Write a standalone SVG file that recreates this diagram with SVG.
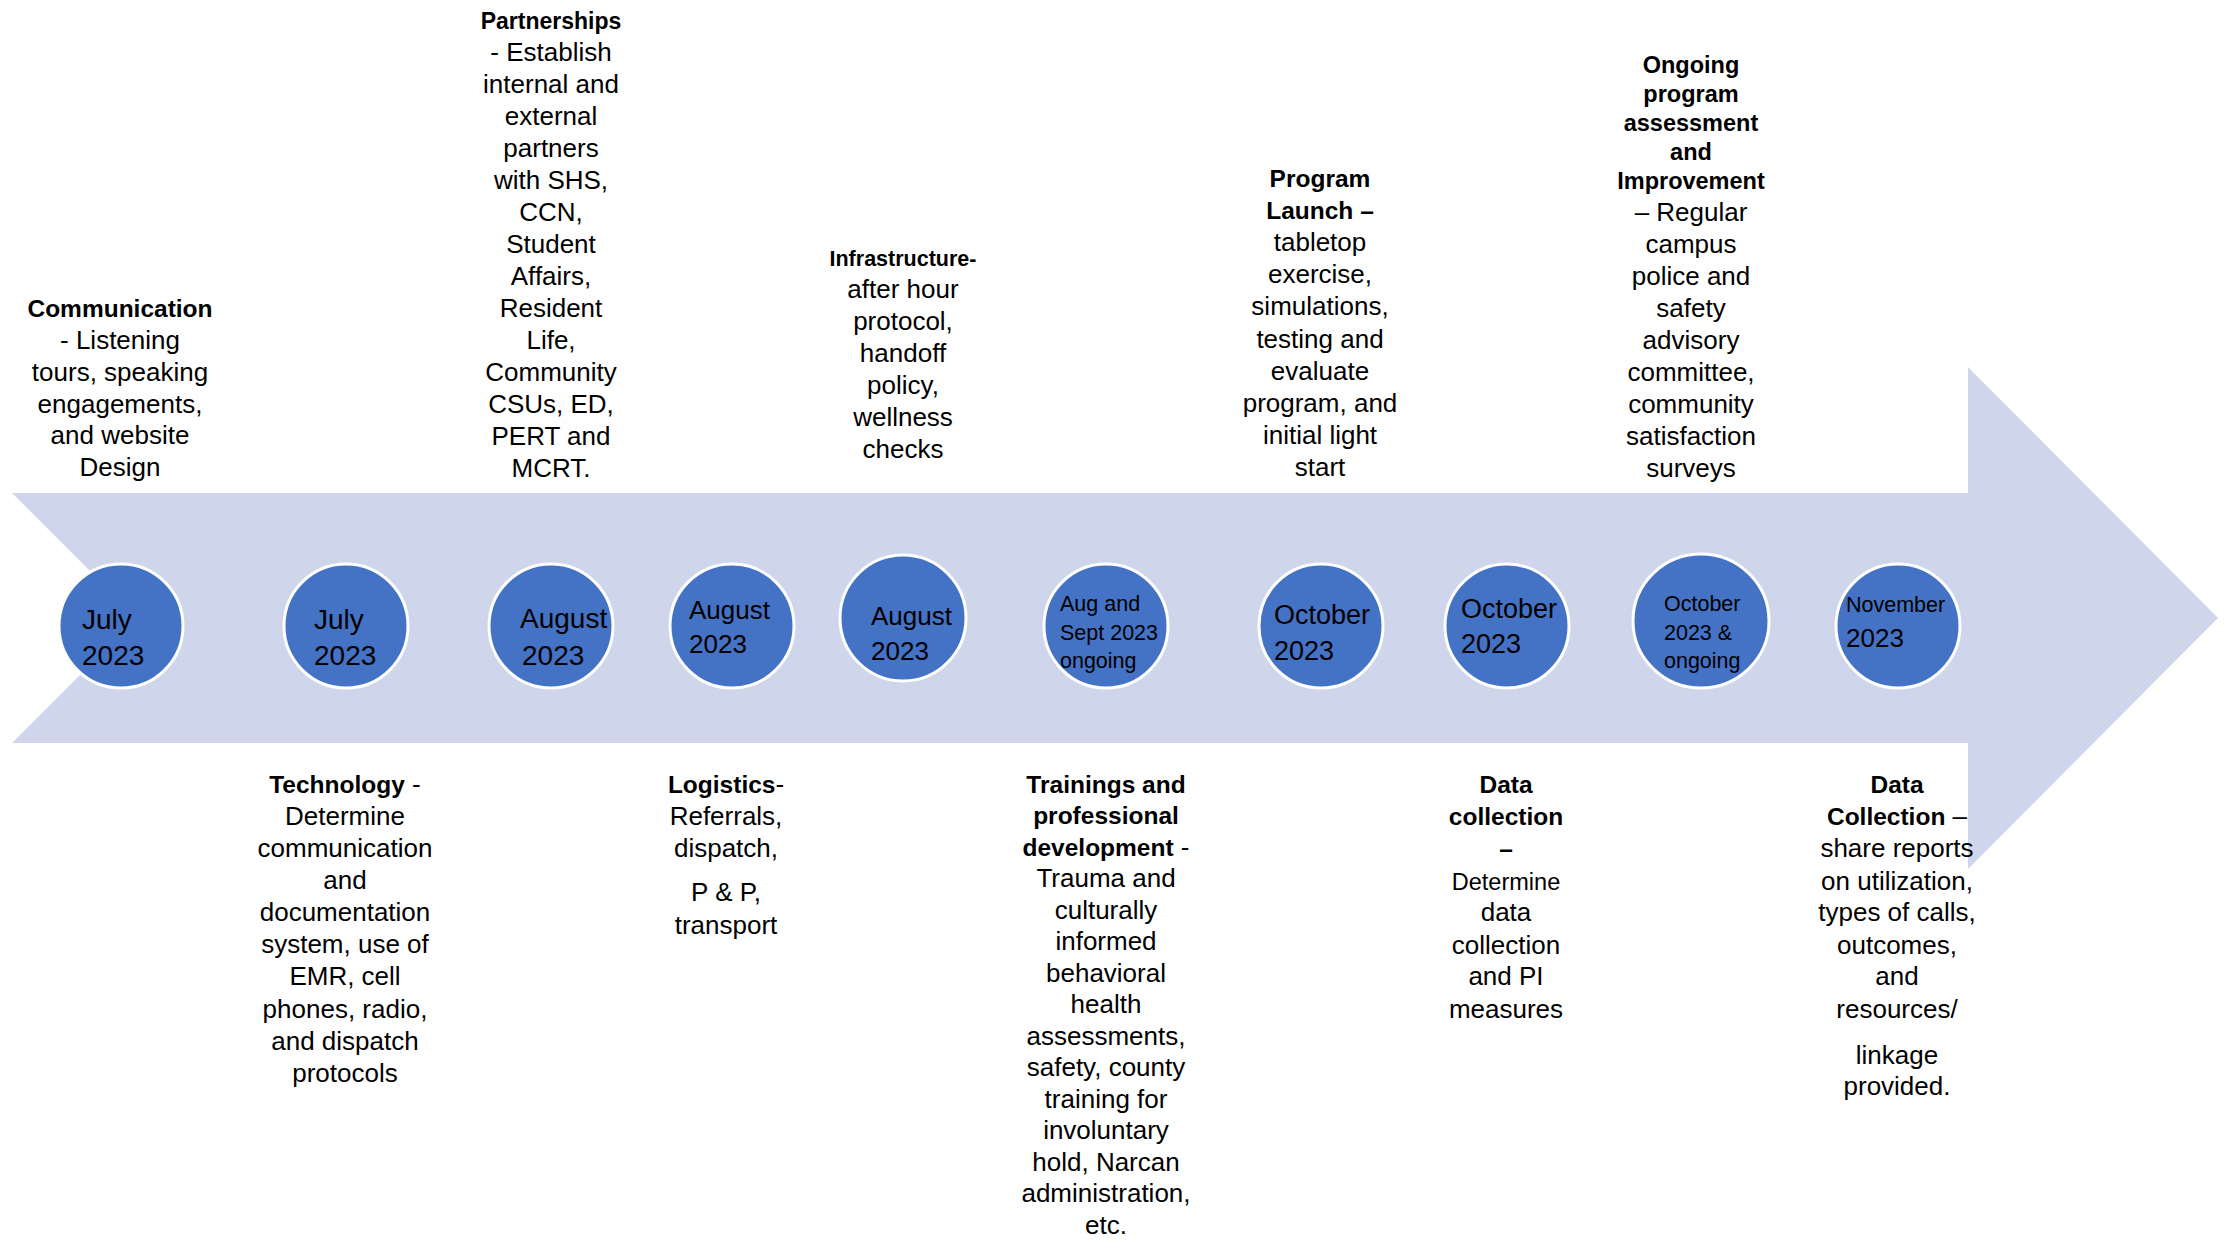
<svg xmlns="http://www.w3.org/2000/svg" width="2236" height="1242" viewBox="0 0 2236 1242">
<style>
  text { font-family: "Liberation Sans", Arial, sans-serif; fill: #000; }
  .t { font-size: 26px; text-anchor: middle; }
  .b { font-weight: bold; font-size: 24.5px; }
  .r { font-weight: normal; font-size: 26px; }
  .dot { fill: #4472C4; stroke: #FFFFFF; stroke-width: 3; }
  .d28 { font-size: 28px; }
  .d27 { font-size: 27px; }
  .d26 { font-size: 26px; }
  .d22 { font-size: 21.5px; }
</style>
<rect width="2236" height="1242" fill="#FFFFFF"/>
<g id="timeline-arrow">
  <polygon points="12,493 1968,493 1968,367 2218,618 1968,869 1968,743 12,743 137,618" fill="#CFD5EA"/>
</g>
<g id="connectors"/>

<!-- milestone circles -->
<g id="m1"><circle class="dot" cx="121" cy="626" r="62"/>
  <text class="d28" x="82" y="629">July</text><text class="d28" x="82" y="665">2023</text></g>
<g id="m2"><circle class="dot" cx="346" cy="626" r="62"/>
  <text class="d28" x="314" y="629">July</text><text class="d28" x="314" y="665">2023</text></g>
<g id="m3"><circle class="dot" cx="551" cy="626" r="62"/>
  <text class="d28" x="520" y="628">August</text><text class="d28" x="522" y="665">2023</text></g>
<g id="m4"><circle class="dot" cx="732" cy="626" r="62"/>
  <text class="d26" x="689" y="619">August</text><text class="d26" x="689" y="653">2023</text></g>
<g id="m5"><circle class="dot" cx="903" cy="618" r="63"/>
  <text class="d26" x="871" y="625">August</text><text class="d26" x="871" y="660">2023</text></g>
<g id="m6"><circle class="dot" cx="1106" cy="626" r="62"/>
  <text class="d22" x="1060" y="611">Aug and</text><text class="d22" x="1060" y="640">Sept 2023</text><text class="d22" x="1060" y="668">ongoing</text></g>
<g id="m7"><circle class="dot" cx="1321" cy="626" r="62"/>
  <text class="d27" x="1274" y="624">October</text><text class="d27" x="1274" y="660">2023</text></g>
<g id="m8"><circle class="dot" cx="1507" cy="626" r="62"/>
  <text class="d27" x="1461" y="618">October</text><text class="d27" x="1461" y="653">2023</text></g>
<g id="m9"><ellipse class="dot" cx="1701" cy="621" rx="68" ry="67"/>
  <text class="d22" x="1664" y="611">October</text><text class="d22" x="1664" y="640">2023 &amp;</text><text class="d22" x="1664" y="668">ongoing</text></g>
<g id="m10"><circle class="dot" cx="1898" cy="626" r="62"/>
  <text class="d22" x="1846" y="612">November</text><text class="d26" x="1846" y="647">2023</text></g>

<g id="descriptions" transform="translate(0,2.5)">
<!-- top descriptions -->
<g id="communication">
  <text class="t" x="120" y="314"><tspan class="b">Communication</tspan></text>
  <text class="t" x="120" y="346">- Listening</text>
  <text class="t" x="120" y="378">tours, speaking</text>
  <text class="t" x="120" y="410">engagements,</text>
  <text class="t" x="120" y="441">and website</text>
  <text class="t" x="120" y="473">Design</text>
</g>
<g id="partnerships">
  <text class="t" x="551" y="26"><tspan class="b" style="font-size:23px">Partnerships</tspan></text>
  <text class="t" x="551" y="58">- Establish</text>
  <text class="t" x="551" y="90">internal and</text>
  <text class="t" x="551" y="122">external</text>
  <text class="t" x="551" y="154">partners</text>
  <text class="t" x="551" y="186">with SHS,</text>
  <text class="t" x="551" y="218">CCN,</text>
  <text class="t" x="551" y="250">Student</text>
  <text class="t" x="551" y="282">Affairs,</text>
  <text class="t" x="551" y="314">Resident</text>
  <text class="t" x="551" y="346">Life,</text>
  <text class="t" x="551" y="378">Community</text>
  <text class="t" x="551" y="410">CSUs, ED,</text>
  <text class="t" x="551" y="442">PERT and</text>
  <text class="t" x="551" y="474">MCRT.</text>
</g>
<g id="infrastructure">
  <text class="t" x="903" y="263"><tspan class="b" style="font-size:21.5px">Infrastructure-</tspan></text>
  <text class="t" x="903" y="295">after hour</text>
  <text class="t" x="903" y="327">protocol,</text>
  <text class="t" x="903" y="359">handoff</text>
  <text class="t" x="903" y="391">policy,</text>
  <text class="t" x="903" y="423">wellness</text>
  <text class="t" x="903" y="455">checks</text>
</g>
<g id="program-launch">
  <text class="t" x="1320" y="184"><tspan class="b">Program</tspan></text>
  <text class="t" x="1320" y="216"><tspan class="b">Launch –</tspan></text>
  <text class="t" x="1320" y="248">tabletop</text>
  <text class="t" x="1320" y="280">exercise,</text>
  <text class="t" x="1320" y="312">simulations,</text>
  <text class="t" x="1320" y="345">testing and</text>
  <text class="t" x="1320" y="377">evaluate</text>
  <text class="t" x="1320" y="409">program, and</text>
  <text class="t" x="1320" y="441">initial light</text>
  <text class="t" x="1320" y="473">start</text>
</g>
<g id="ongoing-assessment">
  <text class="t" x="1691" y="70"><tspan class="b" style="font-size:23.5px">Ongoing</tspan></text>
  <text class="t" x="1691" y="99"><tspan class="b" style="font-size:23.5px">program</tspan></text>
  <text class="t" x="1691" y="128"><tspan class="b" style="font-size:23.5px">assessment</tspan></text>
  <text class="t" x="1691" y="157"><tspan class="b" style="font-size:23.5px">and</tspan></text>
  <text class="t" x="1691" y="186"><tspan class="b" style="font-size:23.5px">Improvement</tspan></text>
  <text class="t" x="1691" y="218">– Regular</text>
  <text class="t" x="1691" y="250">campus</text>
  <text class="t" x="1691" y="282">police and</text>
  <text class="t" x="1691" y="314">safety</text>
  <text class="t" x="1691" y="346">advisory</text>
  <text class="t" x="1691" y="378">committee,</text>
  <text class="t" x="1691" y="410">community</text>
  <text class="t" x="1691" y="442">satisfaction</text>
  <text class="t" x="1691" y="474">surveys</text>
</g>

<!-- bottom descriptions -->
<g id="technology">
  <text class="t" x="345" y="790"><tspan class="b">Technology</tspan><tspan class="r"> -</tspan></text>
  <text class="t" x="345" y="822">Determine</text>
  <text class="t" x="345" y="854">communication</text>
  <text class="t" x="345" y="886">and</text>
  <text class="t" x="345" y="918">documentation</text>
  <text class="t" x="345" y="950">system, use of</text>
  <text class="t" x="345" y="982">EMR, cell</text>
  <text class="t" x="345" y="1015">phones, radio,</text>
  <text class="t" x="345" y="1047">and dispatch</text>
  <text class="t" x="345" y="1079">protocols</text>
</g>
<g id="logistics">
  <text class="t" x="726" y="790"><tspan class="b">Logistics</tspan><tspan class="r">-</tspan></text>
  <text class="t" x="726" y="822">Referrals,</text>
  <text class="t" x="726" y="854">dispatch,</text>
  <text class="t" x="726" y="898">P &amp; P,</text>
  <text class="t" x="726" y="931">transport</text>
</g>
<g id="trainings">
  <text class="t" x="1106" y="790"><tspan class="b">Trainings and</tspan></text>
  <text class="t" x="1106" y="821.5"><tspan class="b">professional</tspan></text>
  <text class="t" x="1106" y="853"><tspan class="b">development</tspan><tspan class="r"> -</tspan></text>
  <text class="t" x="1106" y="884.5">Trauma and</text>
  <text class="t" x="1106" y="916">culturally</text>
  <text class="t" x="1106" y="947.5">informed</text>
  <text class="t" x="1106" y="979">behavioral</text>
  <text class="t" x="1106" y="1010.5">health</text>
  <text class="t" x="1106" y="1042">assessments,</text>
  <text class="t" x="1106" y="1073.5">safety, county</text>
  <text class="t" x="1106" y="1105">training for</text>
  <text class="t" x="1106" y="1136.5">involuntary</text>
  <text class="t" x="1106" y="1168">hold, Narcan</text>
  <text class="t" x="1106" y="1199.5">administration,</text>
  <text class="t" x="1106" y="1231">etc.</text>
</g>
<g id="data-collection-1">
  <text class="t" x="1506" y="790"><tspan class="b">Data</tspan></text>
  <text class="t" x="1506" y="822"><tspan class="b">collection</tspan></text>
  <text class="t" x="1506" y="854"><tspan class="b">–</tspan></text>
  <text class="t" x="1506" y="887" style="font-size:23.5px">Determine</text>
  <text class="t" x="1506" y="918">data</text>
  <text class="t" x="1506" y="951">collection</text>
  <text class="t" x="1506" y="982">and PI</text>
  <text class="t" x="1506" y="1015">measures</text>
</g>
<g id="data-collection-2">
  <text class="t" x="1897" y="790"><tspan class="b">Data</tspan></text>
  <text class="t" x="1897" y="822"><tspan class="b">Collection</tspan><tspan class="r"> –</tspan></text>
  <text class="t" x="1897" y="854">share reports</text>
  <text class="t" x="1897" y="887">on utilization,</text>
  <text class="t" x="1897" y="918">types of calls,</text>
  <text class="t" x="1897" y="951">outcomes,</text>
  <text class="t" x="1897" y="982">and</text>
  <text class="t" x="1897" y="1015">resources/</text>
  <text class="t" x="1897" y="1061">linkage</text>
  <text class="t" x="1897" y="1092">provided.</text>
</g>
</g>
</svg>
